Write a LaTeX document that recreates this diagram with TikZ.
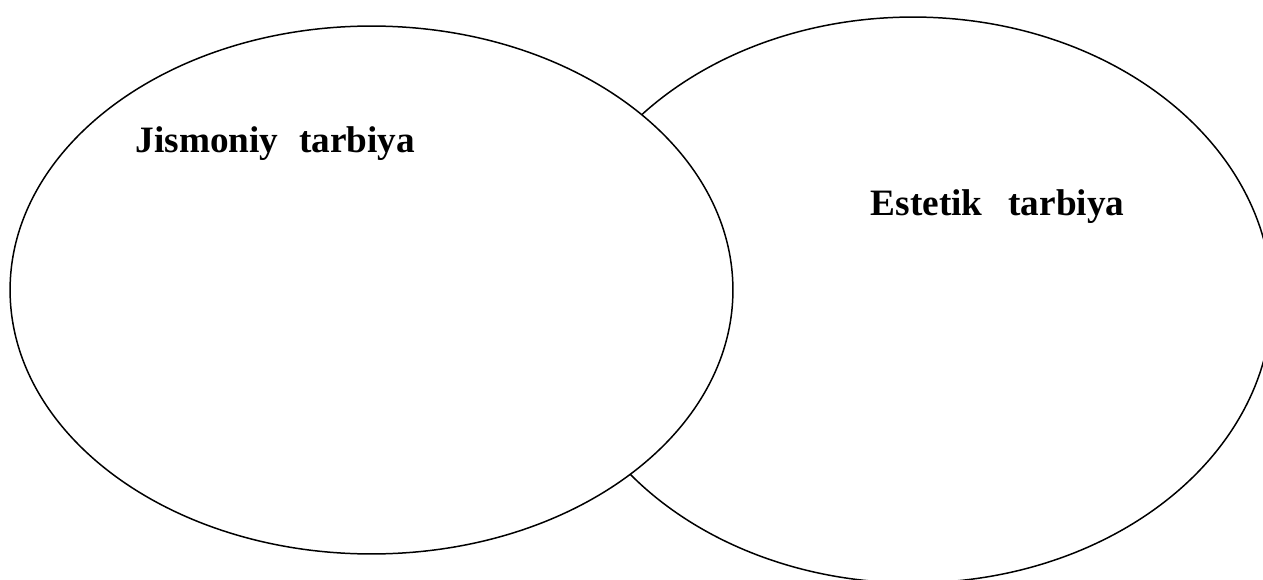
\documentclass[tikz,border=0pt]{standalone}
\usepackage{fontspec}
\setmainfont{Liberation Serif}
\usepackage{tikz}
\usetikzlibrary{shapes.geometric,positioning}

\begin{document}
\begin{tikzpicture}[x=0.02cm,y=0.02cm,line width=0.85pt,
                    every node/.style={align=left}]
  \tikzstyle{oval}=[ellipse,draw=black,fill=white,inner sep=0pt]
  \tikzstyle{title}=[font=\fontsize{21.2}{25}\selectfont\bfseries,inner sep=0pt,anchor=base west]

  \useasboundingbox (0,0) rectangle (1263,579);
  \clip (0,0) rectangle (1263,579);

  \node[oval,minimum width=14.36cm,minimum height=11.32cm] (estetik) at (913,279) {};
  \node[oval,minimum width=14.46cm,minimum height=10.56cm] (jismoniy) at (371.5,289) {};

  \node[title] (jt) at (135,427) {Jismoniy\hspace{0.3em} tarbiya};
  \node[title] (et) at (870,364) {Estetik\hspace{0.45em} tarbiya};
\end{tikzpicture}
\end{document}
